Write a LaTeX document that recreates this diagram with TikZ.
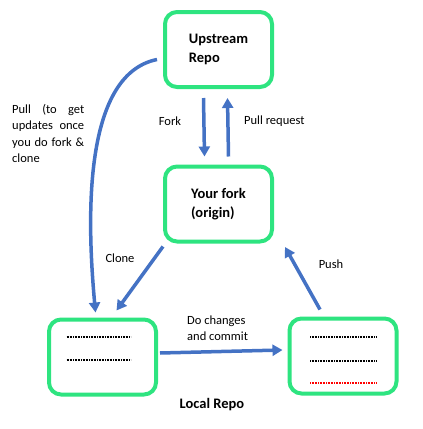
\documentclass[tikz,border=0pt]{standalone}
\usepackage{fontspec}
\setmainfont{Carlito}
\usetikzlibrary{arrows.meta,calc}
\definecolor{boxgreen}{RGB}{46,228,128}
\definecolor{arrowblue}{RGB}{68,114,196}
\begin{document}
\begin{tikzpicture}[x=1pt,y=-1pt,
  repo/.style={draw=boxgreen,line width=4pt,rounded corners=12pt,minimum width=107pt,minimum height=75pt,inner sep=0pt,align=left,font=\fontsize{14.5}{19}\selectfont\bfseries},
  flow/.style={draw=arrowblue,line width=3.5pt,-{Triangle[length=10pt,width=11pt]}},
  lbl/.style={font=\fontsize{12.5}{16.5}\selectfont,inner sep=0pt},
  dots/.style={line width=1.1pt,dash pattern=on 1pt off 0.6pt}]
\useasboundingbox (0,0) rectangle (423,429);
\node[repo] (up) at (218.5,49.5) {Upstream\\Repo};
\node[repo] (fork) at (218.5,204) {Your fork\\(origin)};
\node[repo] (left) at (102.5,357) {};
\node[repo] (right) at (343,356) {};
\node[font=\fontsize{14.5}{16}\selectfont\bfseries,inner sep=0pt] (lr) at (212,405) {Local Repo};
% dotted lines
\draw[dots] ($(left.center)+(-36,-20)$) -- ($(left.center)+(28,-20)$);
\draw[dots] ($(left.center)+(-36,3)$) -- ($(left.center)+(28,3)$);
\draw[dots] ($(right.center)+(-33,-19)$) -- ($(right.center)+(33,-19)$);
\draw[dots] ($(right.center)+(-33,5)$) -- ($(right.center)+(33,5)$);
\draw[dots,draw=red] ($(right.center)+(-33,27)$) -- ($(right.center)+(33,27)$);
% arrows
\draw[flow] ($(up.south)+(-15,9)$) -- ($(fork.north)+(-14,-8)$);
\draw[flow] ($(fork.north)+(10,-8)$) -- ($(up.south)+(9,9)$);
\draw[flow] ($(up.west)+(-6,10)$) .. controls (80,75) and (88,230) .. ($(left.north)+(-7,-5)$);
\draw[flow] ($(fork.south west)+(0,3)$) -- ($(left.north)+(14,-7)$);
\draw[flow] ($(right.north)+(-23,-7)$) -- ($(fork.south east)+(11,3.5)$);
\draw[flow] ($(left.east)+(2,-4)$) -- ($(right.west)+(-5,-6)$);
% labels
\node[lbl] (lfork) at (170,121) {Fork};
\node[lbl,anchor=west] (lpr) at (244,121) {Pull request};
\node[lbl,anchor=north west,text width=72pt,align=justify] (lpull) at (12,104) {Pull (to get\linebreak updates once\linebreak you do fork \&\linebreak clone};
\node[lbl] (lclone) at (120,258) {Clone};
\node[lbl] (lpush) at (331,264) {Push};
\node[lbl,align=left,anchor=west] (lcommit) at (187,328) {Do changes\\and commit};
\end{tikzpicture}
\end{document}
